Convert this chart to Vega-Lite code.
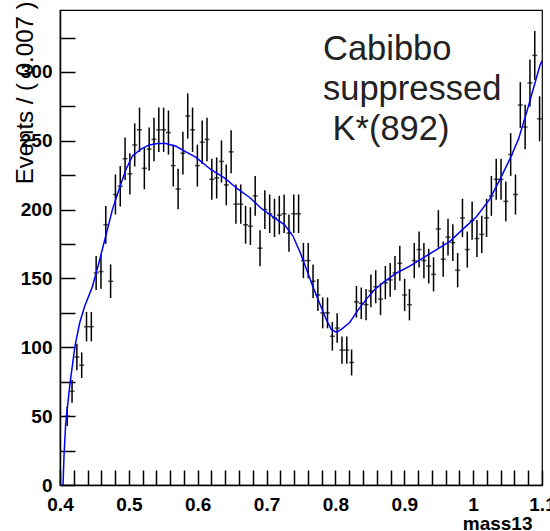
{
  "$schema": "https://vega.github.io/schema/vega-lite/v6.json",
  "autosize": {"type": "none"},
  "padding": {"left": 60, "top": 10, "right": 8, "bottom": 46},
  "width": 482,
  "height": 475,
  "background": "white",
  "config": {
    "view": {"stroke": "black", "strokeWidth": 1.2},
    "font": "Liberation Sans"
  },
  "datasets": {
    "pts": [
      {"m":0.4105,"v":50,"err":7.1},{"m":0.4175,"v":68,"err":8.2},{"m":0.4245,"v":93,"err":9.6},{"m":0.4315,"v":87,"err":9.3},
      {"m":0.4385,"v":115,"err":10.7},{"m":0.4455,"v":115,"err":10.7},{"m":0.4525,"v":154,"err":12.4},{"m":0.4595,"v":155,"err":12.4},
      {"m":0.4665,"v":189,"err":13.7},{"m":0.4735,"v":148,"err":12.2},{"m":0.4805,"v":211,"err":14.5},{"m":0.4875,"v":217,"err":14.7},
      {"m":0.4945,"v":237,"err":15.4},{"m":0.5015,"v":226,"err":15.0},{"m":0.5085,"v":247,"err":15.7},{"m":0.5155,"v":258,"err":16.1},
      {"m":0.5225,"v":230,"err":15.2},{"m":0.5295,"v":244,"err":15.6},{"m":0.5365,"v":251,"err":15.8},{"m":0.5435,"v":258,"err":16.1},
      {"m":0.5505,"v":258,"err":16.1},{"m":0.5575,"v":256,"err":16.0},{"m":0.5645,"v":232,"err":15.2},{"m":0.5715,"v":215,"err":14.7},
      {"m":0.5785,"v":241,"err":15.5},{"m":0.5855,"v":268,"err":16.4},{"m":0.5925,"v":258,"err":16.1},{"m":0.5995,"v":232,"err":15.2},
      {"m":0.6065,"v":249,"err":15.8},{"m":0.6135,"v":251,"err":15.8},{"m":0.6205,"v":222,"err":14.9},{"m":0.6275,"v":223,"err":14.9},
      {"m":0.6345,"v":235,"err":15.3},{"m":0.6415,"v":218,"err":14.8},{"m":0.6485,"v":242,"err":15.6},{"m":0.6555,"v":204,"err":14.3},
      {"m":0.6625,"v":204,"err":14.3},{"m":0.6695,"v":189,"err":13.7},{"m":0.6765,"v":188,"err":13.7},{"m":0.6835,"v":210,"err":14.5},
      {"m":0.6905,"v":172,"err":13.1},{"m":0.6975,"v":200,"err":14.1},{"m":0.7045,"v":197,"err":14.0},{"m":0.7115,"v":194,"err":13.9},
      {"m":0.7185,"v":196,"err":14.0},{"m":0.7255,"v":197,"err":14.0},{"m":0.7325,"v":183,"err":13.5},{"m":0.7395,"v":197,"err":14.0},
      {"m":0.7465,"v":197,"err":14.0},{"m":0.7535,"v":163,"err":12.8},{"m":0.7605,"v":163,"err":12.8},{"m":0.7675,"v":148,"err":12.2},
      {"m":0.7745,"v":138,"err":11.7},{"m":0.7815,"v":125,"err":11.2},{"m":0.7885,"v":125,"err":11.2},{"m":0.7955,"v":108,"err":10.4},
      {"m":0.8025,"v":114,"err":10.7},{"m":0.8095,"v":98,"err":9.9},{"m":0.8165,"v":98,"err":9.9},{"m":0.8235,"v":89,"err":9.4},
      {"m":0.8305,"v":133,"err":11.5},{"m":0.8375,"v":132,"err":11.5},{"m":0.8445,"v":131,"err":11.4},{"m":0.8515,"v":141,"err":11.9},
      {"m":0.8585,"v":144,"err":12.0},{"m":0.8655,"v":135,"err":11.6},{"m":0.8725,"v":147,"err":12.1},{"m":0.8795,"v":149,"err":12.2},
      {"m":0.8865,"v":154,"err":12.4},{"m":0.8935,"v":161,"err":12.7},{"m":0.9005,"v":138,"err":11.7},{"m":0.9075,"v":131,"err":11.4},
      {"m":0.9145,"v":163,"err":12.8},{"m":0.9215,"v":171,"err":13.1},{"m":0.9285,"v":163,"err":12.8},{"m":0.9355,"v":159,"err":12.6},
      {"m":0.9425,"v":153,"err":12.4},{"m":0.9495,"v":186,"err":13.6},{"m":0.9565,"v":164,"err":12.8},{"m":0.9635,"v":180,"err":13.4},
      {"m":0.9705,"v":176,"err":13.3},{"m":0.9775,"v":156,"err":12.5},{"m":0.9845,"v":194,"err":13.9},{"m":0.9915,"v":171,"err":13.1},
      {"m":0.9985,"v":192,"err":13.9},{"m":1.0055,"v":179,"err":13.4},{"m":1.0125,"v":182,"err":13.5},{"m":1.0195,"v":194,"err":13.9},
      {"m":1.0265,"v":210,"err":14.5},{"m":1.0335,"v":222,"err":14.9},{"m":1.0405,"v":222,"err":14.9},{"m":1.0475,"v":206,"err":14.4},
      {"m":1.0545,"v":240,"err":15.5},{"m":1.0615,"v":211,"err":14.5},{"m":1.0685,"v":276,"err":16.6},{"m":1.0755,"v":260,"err":16.1},
      {"m":1.0825,"v":292,"err":17.1},{"m":1.0895,"v":312,"err":17.7},{"m":1.0965,"v":266,"err":16.3}
    ],
    "fit": [
      {"m":0.4044,"v":0},{"m":0.4058,"v":21},{"m":0.4083,"v":45},{"m":0.4146,"v":74},{"m":0.4218,"v":101},
      {"m":0.4287,"v":118},{"m":0.4360,"v":130},{"m":0.4470,"v":144},{"m":0.4568,"v":162},{"m":0.4665,"v":181},
      {"m":0.4761,"v":200},{"m":0.4859,"v":215},{"m":0.4956,"v":229},{"m":0.5052,"v":239},{"m":0.5175,"v":244},
      {"m":0.5296,"v":247},{"m":0.5416,"v":248},{"m":0.5539,"v":248},{"m":0.5684,"v":246},{"m":0.5830,"v":242},
      {"m":0.5975,"v":238},{"m":0.6194,"v":229},{"m":0.6387,"v":223},{"m":0.6581,"v":215},{"m":0.6751,"v":209},
      {"m":0.6921,"v":201},{"m":0.7115,"v":194},{"m":0.7261,"v":189},{"m":0.7381,"v":181},{"m":0.7479,"v":170},
      {"m":0.7577,"v":157},{"m":0.7673,"v":144},{"m":0.7770,"v":132},{"m":0.7868,"v":120},{"m":0.7940,"v":113},
      {"m":0.8013,"v":111},{"m":0.8086,"v":113},{"m":0.8207,"v":118},{"m":0.8328,"v":127},{"m":0.8450,"v":135},
      {"m":0.8571,"v":142},{"m":0.8692,"v":147},{"m":0.8887,"v":154},{"m":0.9080,"v":159},{"m":0.9274,"v":165},
      {"m":0.9469,"v":171},{"m":0.9662,"v":177},{"m":0.9856,"v":186},{"m":1.0051,"v":195},{"m":1.0245,"v":208},
      {"m":1.0390,"v":222},{"m":1.0536,"v":237},{"m":1.0657,"v":251},{"m":1.0779,"v":271},{"m":1.0875,"v":288},
      {"m":1.0972,"v":305},{"m":1.1,"v":308}
    ],
    "label": [
      {"m":0.7819,"v":308.7,"t":"Cabibbo"},
      {"m":0.7819,"v":279.6,"t":"suppressed"},
      {"m":0.7957,"v":250.6,"t":"K*(892)"}
    ]
  },
  "encoding": {
    "x": {
      "field": "m", "type": "quantitative",
      "scale": {"domain": [0.4, 1.1], "nice": false, "zero": false},
      "axis": {
        "title": "mass13",
        "titleFont": "Liberation Sans", "titleFontWeight": "bold", "titleFontSize": 19, "titleColor": "black",
        "titleAnchor": "end", "titleAlign": "right", "titleBaseline": "alphabetic",
        "titleX": 472, "titleY": 44,
        "values": [0.4,0.42,0.44,0.46,0.48,0.5,0.52,0.54,0.56,0.58,0.6,0.62,0.64,0.66,0.68,0.7,0.72,0.74,0.76,0.78,0.8,0.82,0.84,0.86,0.88,0.9,0.92,0.94,0.96,0.98,1.0,1.02,1.04,1.06,1.08,1.1],
        "labelExpr": "abs(datum.value*10 - round(datum.value*10)) < 0.001 ? format(datum.value, '~g') : ''",
        "labelFont": "Liberation Sans", "labelFontWeight": "bold", "labelFontSize": 19, "labelColor": "black",
        "labelFlush": false, "labelOverlap": false, "labelBaseline": "top",
        "labelPadding": 25,
        "tickSize": -15,
        "tickColor": "black", "tickWidth": 1.5,
        "domainColor": "black", "domainWidth": 1.5,
        "grid": false,
        "encode": {
          "ticks": {"update": {"y": {"value": 0}, "y2": {"signal": "abs(datum.value*10 - round(datum.value*10)) < 0.001 ? -15 : -8"}}}
        }
      }
    },
    "y": {
      "field": "v", "type": "quantitative",
      "scale": {"domain": [0, 345], "nice": false},
      "axis": {
        "title": "Events / ( 0.007 )",
        "titleFont": "Liberation Sans", "titleFontWeight": "normal", "titleFontSize": 24, "titleColor": "black",
        "titleAngle": 270, "titleAlign": "right", "titleBaseline": "alphabetic",
        "titleX": -28, "titleY": -9,
        "values": [0,25,50,75,100,125,150,175,200,225,250,275,300,325],
        "labelExpr": "datum.value % 50 === 0 ? datum.label : ''",
        "labelFont": "Liberation Sans", "labelFontWeight": "bold", "labelFontSize": 19, "labelColor": "black",
        "labelOverlap": false, "labelFlush": false,
        "labelPadding": 23,
        "tickSize": -15,
        "tickColor": "black", "tickWidth": 1.5,
        "domainColor": "black", "domainWidth": 1.5,
        "grid": false,
        "encode": {
          "ticks": {"update": {"x": {"value": 0}, "x2": {"signal": "datum.value % 50 === 0 ? 15 : 8"}}}
        }
      }
    }
  },
  "layer": [
    {
      "data": {"name": "pts"},
      "mark": {"type": "errorbar", "color": "black", "thickness": 1.5},
      "encoding": {"yError": {"field": "err"}}
    },
    {
      "data": {"name": "pts"},
      "mark": {"type": "tick", "orient": "horizontal", "size": 5, "thickness": 1.5, "color": "black"}
    },
    {
      "data": {"name": "fit"},
      "mark": {"type": "line", "color": "#0000ff", "strokeWidth": 1.5}
    },
    {
      "data": {"name": "label"},
      "mark": {"type": "text", "align": "left", "baseline": "alphabetic", "fontSize": 34.5, "font": "Liberation Sans", "color": "#222222"},
      "encoding": {"text": {"field": "t"}}
    }
  ]
}
